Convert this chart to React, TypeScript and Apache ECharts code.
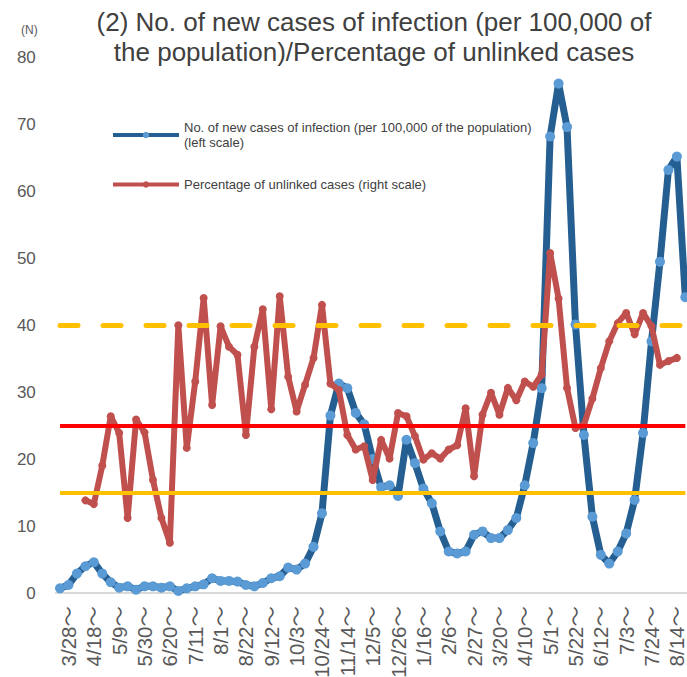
import React, { useEffect, useRef } from "react";
import * as echarts from "echarts";

// Weekly categories (week starting), 2020/3/21 - 2021/8/21
const weeks = [
  "3/21～", "3/28～", "4/4～", "4/11～", "4/18～", "4/25～", "5/2～", "5/9～", "5/16～", "5/23～",
  "5/30～", "6/6～", "6/13～", "6/20～", "6/27～", "7/4～", "7/11～", "7/18～", "7/25～", "8/1～",
  "8/8～", "8/15～", "8/22～", "8/29～", "9/5～", "9/12～", "9/19～", "9/26～", "10/3～", "10/10～",
  "10/17～", "10/24～", "10/31～", "11/7～", "11/14～", "11/21～", "11/28～", "12/5～", "12/12～", "12/19～",
  "12/26～", "1/2～", "1/9～", "1/16～", "1/23～", "1/30～", "2/6～", "2/13～", "2/20～", "2/27～",
  "3/6～", "3/13～", "3/20～", "3/27～", "4/3～", "4/10～", "4/17～", "4/24～", "5/1～", "5/8～",
  "5/15～", "5/22～", "5/29～", "6/5～", "6/12～", "6/19～", "6/26～", "7/3～", "7/10～", "7/17～",
  "7/24～", "7/31～", "8/7～", "8/14～", "8/21～",
];

// No. of new cases of infection per 100,000 (left scale)
const newCases = [
  0.7, 1.2, 2.9, 4.0, 4.6, 2.9, 1.6, 0.8, 1.0, 0.5,
  1.0, 1.0, 0.8, 1.0, 0.3, 0.7, 1.0, 1.3, 2.2, 1.8,
  1.8, 1.7, 1.2, 1.0, 1.5, 2.2, 2.5, 3.8, 3.5, 4.4,
  6.9, 11.9, 26.5, 31.3, 30.6, 26.9, 25.2, 20.0, 15.8, 16.1,
  14.5, 22.9, 19.4, 15.6, 13.4, 9.2, 6.2, 5.9, 6.2, 8.7,
  9.2, 8.2, 8.2, 9.4, 11.2, 16.1, 22.4, 30.6, 68.2, 76.1,
  69.6, 40.1, 23.6, 11.4, 5.7, 4.4, 6.2, 8.9, 13.9, 23.9,
  37.6, 49.5, 63.2, 65.2, 44.2,
];

// Percentage of unlinked cases (right scale, %)
const unlinkedPct = [
  null, null, null, 17.3, 16.6, 23.8, 33.0, 29.9, 14.0, 32.4,
  30.0, 21.1, 14.0, 9.4, 50.0, 27.1, 39.5, 55.1, 35.1, 49.8,
  46.0, 44.5, 29.5, 46.0, 53.0, 34.3, 55.4, 40.4, 33.9, 38.9,
  43.9, 53.8, 39.1, 37.9, 29.5, 26.8, 27.4, 21.1, 28.6, 25.1,
  33.6, 33.0, 29.3, 24.9, 26.1, 25.1, 26.8, 27.6, 34.5, 21.8,
  33.3, 37.4, 33.3, 38.3, 36.0, 39.5, 38.5, 40.8, 63.5, 55.0,
  38.3, 30.8, 31.4, 36.3, 42.0, 47.0, 50.4, 52.3, 48.3, 52.3,
  49.8, 42.6, 43.3, 43.9, null,
];

// Reference lines
const caseThresholds = [25, 15]; // per 100,000 (left scale)
const caseThresholdColors = ["#FF0000", "#FFC000"];
const unlinkedThreshold = 50; // % (right scale)

const leftTicks = { min: 0, max: 80, interval: 10 };
const rightScale = { min: 0, max: 100 };

const blueName = "No. of new cases of infection (per 100,000 of the population) (left scale)";
const redName = "Percentage of unlinked cases (right scale)";

const FONT = '"Liberation Sans", Arial, "Noto Sans CJK JP", sans-serif';

export default function App() {
  const ref = useRef<HTMLDivElement>(null);
  useEffect(() => {
    const chart = echarts.init(ref.current!, null, { renderer: "svg" });
    const first = weeks[0];
    const last = weeks[weeks.length - 1];
    const option: any = {
      animation: false,
      textStyle: { fontFamily: FONT },
      title: {
        text: "(2) No. of new cases of infection (per 100,000 of\nthe population)/Percentage of unlinked cases",
        left: 369,
        top: 2,
        textAlign: "center",
        textStyle: {
          fontFamily: FONT,
          fontSize: 26,
          lineHeight: 30,
          fontWeight: "normal",
          color: "#404040",
        },
      },
      graphic: [
        {
          type: "text",
          left: 21,
          top: 24,
          style: { text: "(N)", fontSize: 12, fill: "#595959", fontFamily: FONT },
        },
      ],
      legend: {
        orient: "vertical",
        left: 106,
        top: 115,
        padding: 5,
        itemWidth: 66,
        itemHeight: 8,
        itemGap: 27,
        data: [blueName, redName],
        lineStyle: { width: 4 },
        formatter: (n: string) => n.replace(" (left scale)", "\n(left scale)"),
        textStyle: { fontFamily: FONT, fontSize: 13, lineHeight: 15, color: "#404040" },
      },
      grid: {
        left: 55.8,
        top: 57.5,
        width: 633.75,
        height: 535.5,
        containLabel: false,
        outerBoundsMode: "none",
      },
      xAxis: {
        type: "category",
        data: weeks,
        boundaryGap: true,
        axisLine: { lineStyle: { color: "#D9D9D9", width: 2 } },
        axisTick: { show: false },
        splitLine: { show: false },
        axisLabel: {
          interval: (i: number) => i % 3 === 1,
          rotate: 90,
          fontSize: 20.5,
          color: "#595959",
          margin: 13,
          fontFamily: FONT,
        },
      },
      yAxis: [
        {
          type: "value",
          ...leftTicks,
          axisLine: { show: false },
          axisTick: { show: false },
          splitLine: { show: false },
          axisLabel: { fontSize: 17, color: "#595959", margin: 20, fontFamily: FONT },
        },
        { type: "value", ...rightScale, show: false, splitLine: { show: false } },
      ],
      series: [
        {
          name: "thresholds-left",
          type: "line",
          yAxisIndex: 0,
          data: weeks.map(() => null),
          symbol: "none",
          z: 1,
          markLine: {
            silent: true,
            symbol: ["none", "none"],
            label: { show: false },
            data: caseThresholds.map((v, k) => [
              { coord: [first, v], lineStyle: { color: caseThresholdColors[k], width: 4, type: "solid" } },
              { coord: [last, v] },
            ]),
          },
        },
        {
          name: "thresholds-right",
          type: "line",
          yAxisIndex: 1,
          data: weeks.map(() => null),
          symbol: "none",
          z: 1,
          markLine: {
            silent: true,
            symbol: ["none", "none"],
            label: { show: false },
            data: [
              [
                {
                  coord: [first, unlinkedThreshold],
                  lineStyle: { color: "#FFC000", width: 5, type: [18, 25], cap: "round" },
                },
                { coord: [last, unlinkedThreshold] },
              ],
            ],
          },
        },
        {
          name: blueName,
          type: "line",
          yAxisIndex: 0,
          data: newCases,
          symbol: "circle",
          symbolSize: 10,
          showAllSymbol: true,
          lineStyle: { color: "#255E91", width: 7 },
          itemStyle: { color: "#5B9BD5" },
          z: 2,
        },
        {
          name: redName,
          type: "line",
          yAxisIndex: 1,
          data: unlinkedPct,
          symbol: "circle",
          symbolSize: 8,
          showAllSymbol: true,
          lineStyle: { color: "#C0504D", width: 6 },
          itemStyle: { color: "#C0504D" },
          z: 3,
        },
      ],
    };
    chart.setOption(option);
    return () => chart.dispose();
  }, []);
  return (
    <div
      ref={ref}
      style={{ position: "fixed", left: 0, top: 0, width: 687, height: 677, background: "#fff" }}
    />
  );
}
